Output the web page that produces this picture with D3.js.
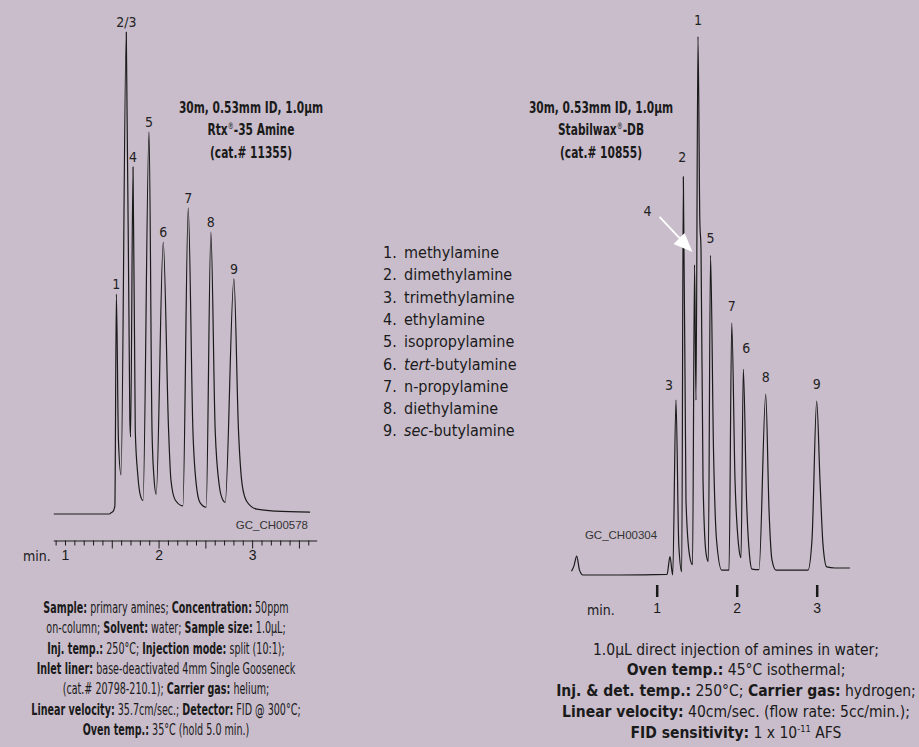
<!DOCTYPE html>
<html>
<head>
<meta charset="utf-8">
<script src="https://cdn.jsdelivr.net/npm/d3@7"></script>
<style>
  body { margin: 0; background: #c9bdcb; }
  svg { display: block; font-family: "DejaVu Sans Condensed", "DejaVu Sans", sans-serif; fill: #1a1a1a; }
  .trace { fill: none; stroke: #1a1a1a; stroke-width: 1.2; stroke-linejoin: round; }
  .peakLabel { font-size: 14px; text-anchor: middle; fill: #222; }
  .fileId { font-family: "Liberation Sans", sans-serif; font-size: 11.5px; fill: #333; }
</style>
</head>
<body>
<svg id="chart" width="919" height="747"></svg>
<script>
// Rtx-35 Amine run: trace points (min, % of tallest peak)
var leftTimes = [0.88, 1.474, 1.495, 1.516, 1.533, 1.549, 1.571, 1.599, 1.655, 1.693, 1.701, 1.727, 1.751, 1.778, 1.805, 1.834,
  1.898, 1.930, 1.949, 1.975, 2.050, 2.107, 2.132, 2.178, 2.260, 2.317, 2.367, 2.410, 2.445, 2.509, 2.559, 2.605,
  2.651, 2.687, 2.712, 2.805, 2.854, 2.894, 2.943, 3.050, 3.245, 3.619];
var leftResponse = [0, 0, 0.3, 0.6, 1.7, 45.6, 15.4, 8.1, 100, 19.5, 16.0, 72.0, 17.4, 8.1, 3.9, 2.8,
  79.3, 17.4, 8.1, 4.1, 56.4, 17.4, 7.1, 2.9, 1.7, 63.5, 17.4, 5.0, 2.3, 1.4, 58.5, 17.4,
  5.6, 2.9, 2.4, 48.8, 17.4, 6.0, 2.6, 1.0, 0.6, 0.4];
var leftPeakLabels = ["1", "2/3", "4", "5", "6", "7", "8", "9"];
var leftPeakTimes = [1.549, 1.655, 1.727, 1.898, 2.050, 2.317, 2.559, 2.805];
var leftPeakResponse = [45.6, 100, 72.0, 79.3, 56.4, 63.5, 58.5, 48.8];
var leftTicks = d3.range(9, 37).map(function(d){ return d / 10; });

// Stabilwax-DB run
var rightTimes = [-0.065, -0.034, 0.000, 0.035, 0.079, 0.541, 1.129, 1.166, 1.200, 1.241, 1.276, 1.313, 1.333, 1.366, 1.410, 1.448,
  1.473, 1.491, 1.516, 1.539, 1.554, 1.579, 1.616, 1.645, 1.673, 1.710, 1.748, 1.813, 1.904, 1.938, 1.979, 2.023,
  2.054, 2.083, 2.123, 2.160, 2.191, 2.279, 2.363, 2.404, 2.441, 2.491, 2.891, 2.941, 3.000, 3.041, 3.079, 3.125,
  3.229, 3.416];
var rightResponse = [0.7, 1.7, 3.5, 0.9, 0, 0, 0.1, 3.4, 0, 32.5, 5.6, 0.6, 74.0, 13.9, 3.7, 1.9,
  57.6, 32.5, 100, 65.9, 60.4, 17.6, 4.1, 2.5, 59.4, 23.2, 6.5, 0.9, 0.9, 46.8, 17.6, 5.6,
  3.2, 38.2, 13.9, 3.7, 1.1, 1.0, 33.6, 12.1, 2.8, 0.9, 0.9, 6.5, 32.3, 17.6, 5.6, 1.5,
  1.3, 1.3];
var rightPeakLabels = ["1", "2", "3", "4", "5", "6", "7", "8", "9"];
var rightPeakTimes = [1.516, 1.333, 1.241, 1.473, 1.673, 2.083, 1.938, 2.363, 3.000];
var rightPeakResponse = [100, 74.0, 32.5, 57.6, 59.4, 38.2, 46.8, 33.6, 32.3];
var rightTicks = [1, 2, 3];

var compounds = ["methylamine", "dimethylamine", "trimethylamine", "ethylamine", "isopropylamine",
  "tert-butylamine", "n-propylamine", "diethylamine", "sec-butylamine"];

var leftTitle = ["30m, 0.53mm ID, 1.0µm", "Rtx|®|-35 Amine", "(cat.# 11355)"];
var rightTitle = ["30m, 0.53mm ID, 1.0µm", "Stabilwax|®|-DB", "(cat.# 10855)"];

// [text, style]  style: 0 normal, 1 bold, 2 superscript
var leftConditions = [
  [["Sample:", 1], [" primary amines; ", 0], ["Concentration:", 1], [" 50ppm", 0]],
  [["on-column; ", 0], ["Solvent:", 1], [" water; ", 0], ["Sample size:", 1], [" 1.0µL;", 0]],
  [["Inj. temp.:", 1], [" 250°C; ", 0], ["Injection mode:", 1], [" split (10:1);", 0]],
  [["Inlet liner:", 1], [" base-deactivated 4mm Single Gooseneck", 0]],
  [["(cat.# 20798-210.1); ", 0], ["Carrier gas:", 1], [" helium;", 0]],
  [["Linear velocity:", 1], [" 35.7cm/sec.; ", 0], ["Detector:", 1], [" FID @ 300°C;", 0]],
  [["Oven temp.:", 1], [" 35°C (hold 5.0 min.)", 0]]
];
var rightConditions = [
  [["1.0µL direct injection of amines in water;", 0]],
  [["Oven temp.:", 1], [" 45°C isothermal;", 0]],
  [["Inj. & det. temp.:", 1], [" 250°C; ", 0], ["Carrier gas:", 1], [" hydrogen;", 0]],
  [["Linear velocity:", 1], [" 40cm/sec. (flow rate: 5cc/min.);", 0]],
  [["FID sensitivity:", 1], [" 1 x 10", 0], ["-11", 2], [" AFS", 0]]
];

var svg = d3.select('#chart');

//Scales
var xL = d3.scaleLinear().domain([0.875, 3.69]).range([53.3, 316.7]);
var yL = d3.scaleLinear().domain([0, 100]).range([514, 32]);
var xR = d3.scaleLinear().domain([0, 3]).range([576.7, 816.7]);
var yR = d3.scaleLinear().domain([0, 100]).range([575, 36.7]);

function drawTrace(times, resp, x, y){
  var line = d3.line()
      .x(function(d){ return x(d[0]); })
      .y(function(d){ return y(d[1]); })
      .curve(d3.curveMonotoneX);
  svg.append('path')
      .datum(d3.zip(times, resp))
      .classed('trace', true)
      .attr('d', line);
}

drawTrace(leftTimes, leftResponse, xL, yL);
drawTrace(rightTimes, rightResponse, xR, yR);

//Peak labels
svg.append('g').selectAll('text')
    .data(d3.zip(leftPeakLabels, leftPeakTimes, leftPeakResponse))
  .enter().append('text')
    .classed('peakLabel', true)
    .attr('x', function(d){ return xL(d[1]); })
    .attr('y', function(d){ return yL(d[2]) - 5; })
    .text(function(d){ return d[0]; });

var shifts = { "3": [-7, -10], "4": [-47, -49], "6": [3, -16], "2": [-1, -15] };
svg.append('g').selectAll('text')
    .data(d3.zip(rightPeakLabels, rightPeakTimes, rightPeakResponse))
  .enter().append('text')
    .classed('peakLabel', true)
    .attr('x', function(d){ return xR(d[1]) + (shifts[d[0]] ? shifts[d[0]][0] : 0); })
    .attr('y', function(d){ return yR(d[2]) + (shifts[d[0]] ? shifts[d[0]][1] : -12); })
    .text(function(d){ return d[0]; });

//White arrow pointing at peak 4
var p4 = rightPeakLabels.indexOf("4");
var tipX = xR(rightPeakTimes[p4]) - 2, tipY = yR(rightPeakResponse[p4]) - 13;
svg.append('line')
    .attr('x1', tipX - 33).attr('y1', tipY - 35)
    .attr('x2', tipX - 8).attr('y2', tipY - 8.5)
    .style('stroke', '#fff').style('stroke-width', 1.8);
svg.append('path')
    .attr('d', 'M' + tipX + ',' + tipY + 'L' + (tipX - 19) + ',' + (tipY - 8) + 'L' + (tipX - 8) + ',' + (tipY - 19) + 'Z')
    .style('fill', '#fff');

//Left axis
var axL = d3.axisBottom(xL)
    .tickValues(leftTicks)
    .tickSize(5)
    .tickSizeOuter(0)
    .tickFormat(function(d){ return Number.isInteger(d) ? d : ""; });
var gL = svg.append('g')
    .attr('transform', 'translate(0,540.5)')
    .call(axL);
gL.select('.domain').style('stroke', '#1a1a1a');
gL.selectAll('.tick line')
    .style('stroke', '#1a1a1a')
    .attr('y2', function(d){ return (d >= 1.5 && Math.round(d * 10) % 5 === 0) ? 8 : 5; });
gL.selectAll('.tick text')
    .attr('y', 10)
    .style('font-family', 'inherit')
    .style('font-size', '14px')
    .style('fill', '#1a1a1a');
svg.append('text')
    .attr('x', 23).attr('y', 561)
    .style('font-size', '14px')
    .text('min.');

//Right axis
var axR = d3.axisBottom(xR)
    .tickValues(rightTicks)
    .tickSize(12)
    .tickPadding(6)
    .tickFormat(d3.format('d'));
var gR = svg.append('g')
    .attr('transform', 'translate(0,585)')
    .call(axR);
gR.select('.domain').remove();
gR.selectAll('.tick line').style('stroke', '#1a1a1a').style('stroke-width', 2.5);
gR.selectAll('.tick text')
    .style('font-family', 'inherit')
    .style('font-size', '14px')
    .style('fill', '#1a1a1a');
svg.append('text')
    .attr('x', 587).attr('y', 615)
    .style('font-size', '14px')
    .text('min.');

//File ids
svg.append('text').classed('fileId', true)
    .attr('x', 308).attr('y', 529).attr('text-anchor', 'end')
    .text('GC_CH00578');
svg.append('text').classed('fileId', true)
    .attr('x', 621).attr('y', 539).attr('text-anchor', 'middle')
    .text('GC_CH00304');

//Column titles (condensed bold face, squeezed horizontally)
function drawTitle(lines, cx){
  var t = svg.append('g');
  lines.forEach(function(line, i){
    var txt = t.append('text')
        .attr('transform', 'translate(' + cx + ',' + (112.5 + i * 22.5) + ') scale(0.74,1)')
        .attr('text-anchor', 'middle')
        .style('font-size', '16px')
        .style('font-weight', 'bold');
    var raised = false;
    line.split('|').forEach(function(part){
      var s = txt.append('tspan').text(part);
      if (part === '®') {
        s.attr('dy', -6).style('font-size', '9px').style('font-weight', 'normal');
        raised = true;
      } else if (raised) {
        s.attr('dy', 6);
        raised = false;
      }
    });
  });
}
drawTitle(leftTitle, 251);
drawTitle(rightTitle, 601);

//Compound list
var legend = svg.append('g').attr('transform', 'translate(383,258)');
compounds.forEach(function(name, i){
  legend.append('text')
      .attr('x', 0).attr('y', i * 22.3)
      .style('font-size', '16px')
      .text((i + 1) + '.');
  var t = legend.append('text')
      .attr('x', 21).attr('y', i * 22.3)
      .style('font-size', '16px');
  var m = name.match(/^(tert|sec)(-.*)$/);
  if (m) {
    t.append('tspan').style('font-style', 'italic').text(m[1]);
    t.append('tspan').text(m[2]);
  } else {
    t.text(name);
  }
});

//Conditions text blocks
function drawConditions(lines, cx, y0, step, size, squeeze){
  lines.forEach(function(line, i){
    var txt = svg.append('text')
        .attr('transform', 'translate(' + cx + ',' + (y0 + i * step) + ') scale(' + squeeze + ',1)')
        .attr('text-anchor', 'middle')
        .style('font-size', size + 'px');
    var raised = false;
    line.forEach(function(seg){
      var s = txt.append('tspan').text(seg[0]);
      if (seg[1] === 1) s.style('font-weight', 'bold');
      if (seg[1] === 2) {
        s.attr('dy', -6).style('font-size', (size * 0.6) + 'px');
        raised = true;
      } else if (raised) {
        s.attr('dy', 6);
        raised = false;
      }
    });
  });
}
drawConditions(leftConditions, 166, 613, 20.3, 15, 0.71);
drawConditions(rightConditions, 736, 654.5, 20.8, 15.5, 1);
</script>
</body>
</html>
